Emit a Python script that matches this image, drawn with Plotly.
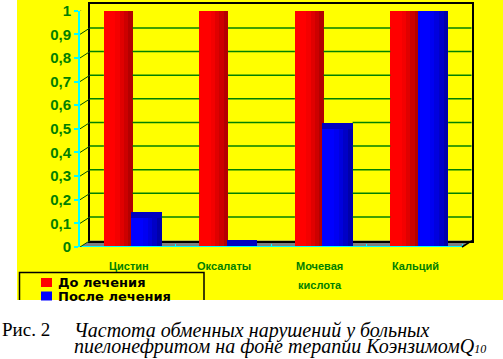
import plotly.graph_objects as go

# ---------------- data ----------------
categories = ["Цистин", "Оксалаты", "Мочевая<br>кислота", "Кальций"]
series_names = ["До лечения", "После лечения"]
before = [1.0, 1.0, 1.0, 1.0]
after = [0.125, 0.005, 0.5, 1.0]
y_ticks = [0, 0.1, 0.2, 0.3, 0.4, 0.5, 0.6, 0.7, 0.8, 0.9, 1.0]
caption_label = "Рис. 2"
caption_lines = ["Частота обменных нарушений у больных",
                 "пиелонефритом на фоне терапии КоэнзимомQ<span style='font-size:12px'>10</span>"]

# ---------------- layout helpers ----------------
W, H = 503, 359
def px(x):
    return x / W
def py(y):
    return (H - y) / H

GREEN = "#008000"
CYAN = "#00ffff"
YELLOW = "#ffff00"

# pseudo-3D depth: back wall is shifted 10 px right and 6.4 px up
FRONT_L, FRONT_R, FRONT_B, FRONT_T = 80, 462, 247, 10.7
DEPTH_X, DEPTH_Y = 10, 6.4
n_cat = len(categories)
px_per_cat = (FRONT_R - FRONT_L) / n_cat
px_per_unit = FRONT_B - FRONT_T
dx = DEPTH_X / px_per_cat
dy = DEPTH_Y / px_per_unit
idx = list(range(n_cat))

red_shades = ["#ff0000", "#f40000", "#e00000", "#cc0000", "#b40000"]
blue_shades = ["#0000ff", "#0000f2", "#0000de", "#0000c6", "#0000aa"]
strip_frac = [0.40, 0.15, 0.15, 0.15, 0.15]
series_colors = ["#ff0000", "#0000ff"]
RED_OFF, RED_W = -0.25, 0.30
BLUE_OFF, BLUE_W = 0.035, 0.32

fig = go.Figure()

# back wall subplot (frame only)
fig.add_trace(go.Scatter(x=[], y=[], xaxis="x", yaxis="y", showlegend=False,
                         hoverinfo="skip"))

def add_cylinder(values, name, shades, cap_color, offset, width):
    pos = offset
    for i, (frac, col) in enumerate(zip(strip_frac, shades)):
        w = width * frac
        fig.add_trace(go.Bar(
            x=idx, y=values, name=name, offset=pos, width=w,
            marker=dict(color=col, line=dict(width=0)),
            showlegend=False, xaxis="x2", yaxis="y2", hoverinfo="skip"))
        pos += w
    # top cap
    fig.add_trace(go.Bar(
        x=idx, y=[0.026] * len(values), base=values, name=name,
        offset=offset, width=width,
        marker=dict(color=cap_color, line=dict(width=0)),
        showlegend=False, xaxis="x2", yaxis="y2", hoverinfo="skip"))

add_cylinder(before, series_names[0], red_shades, "#c80000", RED_OFF, RED_W)
add_cylinder(after, series_names[1], blue_shades, "#0000c0", BLUE_OFF, BLUE_W)

shapes = []
# white margins around the yellow chart area (paper itself is yellow)
shapes.append(dict(type="rect", xref="paper", yref="paper", layer="below",
                   x0=0, x1=px(17), y0=py(300), y1=1,
                   fillcolor="#ffffff", line=dict(width=0)))
shapes.append(dict(type="rect", xref="paper", yref="paper", layer="below",
                   x0=0, x1=1, y0=0, y1=py(300),
                   fillcolor="#ffffff", line=dict(width=0)))
# floor
floor = "M {a},{b} L {c},{b} L {d},{e} L {f},{e} Z".format(
    a=px(FRONT_L), b=py(FRONT_B), c=px(FRONT_R), d=px(FRONT_R + DEPTH_X),
    e=py(FRONT_B - DEPTH_Y), f=px(FRONT_L + DEPTH_X))
shapes.append(dict(type="path", xref="paper", yref="paper", layer="below",
                   path=floor, fillcolor="#808080", line=dict(width=0)))

# back-wall gridlines: visible only where no bar stands in front of them
def visible_segments(t):
    occ = []
    for i in idx:
        if before[i] >= t:
            occ.append((i + RED_OFF, i + RED_OFF + RED_W))
        if after[i] >= t:
            occ.append((i + BLUE_OFF, i + BLUE_OFF + BLUE_W))
    occ.sort()
    segs = []
    cur = -0.5 + dx
    end = n_cat - 0.5 + dx * 0.95
    for a, b in occ:
        if a > cur:
            segs.append((cur, min(a, end)))
        cur = max(cur, b)
    if cur < end:
        segs.append((cur, end))
    return segs

for t in y_ticks[1:-1]:
    for a, b in visible_segments(t):
        shapes.append(dict(type="line", xref="x2", yref="y2", layer="above",
                           x0=a, x1=b, y0=t + dy, y1=t + dy,
                           line=dict(color=GREEN, width=1.5)))

# front x axis line (cyan)
shapes.append(dict(type="line", xref="x2", yref="y2",
                   x0=-0.5, x1=n_cat - 0.5, y0=0, y1=0,
                   line=dict(color=CYAN, width=2)))
# diagonal connectors at ticks
for t in y_ticks:
    shapes.append(dict(type="line", xref="paper", yref="y2",
                       xsizemode="pixel", xanchor=px(FRONT_L), x0=0, x1=DEPTH_X,
                       ysizemode="pixel", yanchor=t, y0=0, y1=DEPTH_Y,
                       line=dict(color="#005000" if t < 1 else "#000000", width=1)))
# bottom right diagonal
shapes.append(dict(type="line", xref="paper", yref="paper",
                   x0=px(FRONT_R), y0=py(FRONT_B), x1=px(FRONT_R + DEPTH_X),
                   y1=py(FRONT_B - DEPTH_Y),
                   line=dict(color="#000000", width=1.5)))
# custom legend box (open at the bottom, as if cut)
shapes.append(dict(type="path", xref="paper", yref="paper",
                   path="M {a},{b} L {a},{c} L {d},{c} L {d},{b}".format(
                       a=px(19.5), b=py(300), c=py(272.5), d=px(204)),
                   line=dict(color="#000000", width=1.5)))

annotations = []
for k, (nm, col) in enumerate(zip(series_names, series_colors)):
    yc = 282.5 + 13.5 * k
    shapes.append(dict(type="rect", xref="paper", yref="paper",
                       x0=px(41), x1=px(52), y0=py(yc + 4.5), y1=py(yc - 4.5),
                       fillcolor=col, line=dict(width=0)))
    annotations.append(dict(x=px(56), y=py(yc), xref="paper", yref="paper",
                            text=nm, showarrow=False, xanchor="left",
                            yanchor="middle",
                            font=dict(family="DejaVu Sans", size=13,
                                      color="#000000", weight="bold")))

for i, cat in enumerate(categories):
    for j, line in enumerate(cat.split("<br>")):
        annotations.append(dict(
            x=i + 0.01, xref="x2", y=py(265.5 + 19 * j), yref="paper",
            text=line, showarrow=False, xanchor="center", yanchor="middle",
            font=dict(family="Liberation Sans", size=11, color=GREEN, weight="bold")))

annotations.append(dict(x=px(0), y=py(317), xref="paper", yref="paper",
                        text=caption_label, showarrow=False,
                        xanchor="left", yanchor="top",
                        font=dict(family="Liberation Serif", size=19, color="#000000")))
for j, line in enumerate(caption_lines):
    annotations.append(dict(x=px(72), y=py(317 + 16 * j), xref="paper", yref="paper",
                            text=line, showarrow=False,
                            xanchor="left", yanchor="top",
                            font=dict(family="Liberation Serif", size=20,
                                      color="#000000", style="italic")))

fig.update_layout(
    width=W, height=H,
    margin=dict(l=0, r=0, t=0, b=0, autoexpand=False),
    paper_bgcolor=YELLOW,
    plot_bgcolor="rgba(0,0,0,0)",
    separators=", ",
    barmode="overlay",
    bargap=0,
    shapes=shapes,
    annotations=annotations,
    showlegend=False,
    # back wall frame
    xaxis=dict(domain=[px(FRONT_L + DEPTH_X), px(FRONT_R + DEPTH_X)], anchor="y",
               range=[-0.5, n_cat - 0.5], showline=True, mirror=True,
               linecolor="#000000", linewidth=1.5, showticklabels=False,
               ticks="", showgrid=False, zeroline=False, fixedrange=True),
    yaxis=dict(domain=[py(FRONT_B - DEPTH_Y), py(FRONT_T - DEPTH_Y)], anchor="x",
               range=[0, 1], showline=True, mirror=True, linecolor="#000000",
               linewidth=1.5, showgrid=False, showticklabels=False, ticks="",
               zeroline=False, fixedrange=True),
    # front axes (x extended by the depth so back gridlines are not clipped)
    xaxis2=dict(domain=[px(FRONT_L), px(FRONT_R + DEPTH_X)], anchor="y2",
                range=[-0.5, n_cat - 0.5 + dx], showline=False,
                tickvals=[i - 0.5 for i in range(n_cat + 1)],
                ticks="inside", ticklen=3, tickcolor=CYAN,
                showticklabels=False, showgrid=False, zeroline=False,
                fixedrange=True),
    yaxis2=dict(domain=[py(FRONT_B), py(FRONT_T)], anchor="x2", range=[0, 1],
                tickvals=y_ticks, showline=True, linecolor=CYAN, linewidth=2,
                ticks="outside", ticklen=4, tickcolor=CYAN, tickwidth=1.5,
                tickfont=dict(family="Liberation Sans", size=15, color=GREEN,
                              weight="bold"),
                showgrid=False, zeroline=False, fixedrange=True),
)

fig.write_html("out.html")
